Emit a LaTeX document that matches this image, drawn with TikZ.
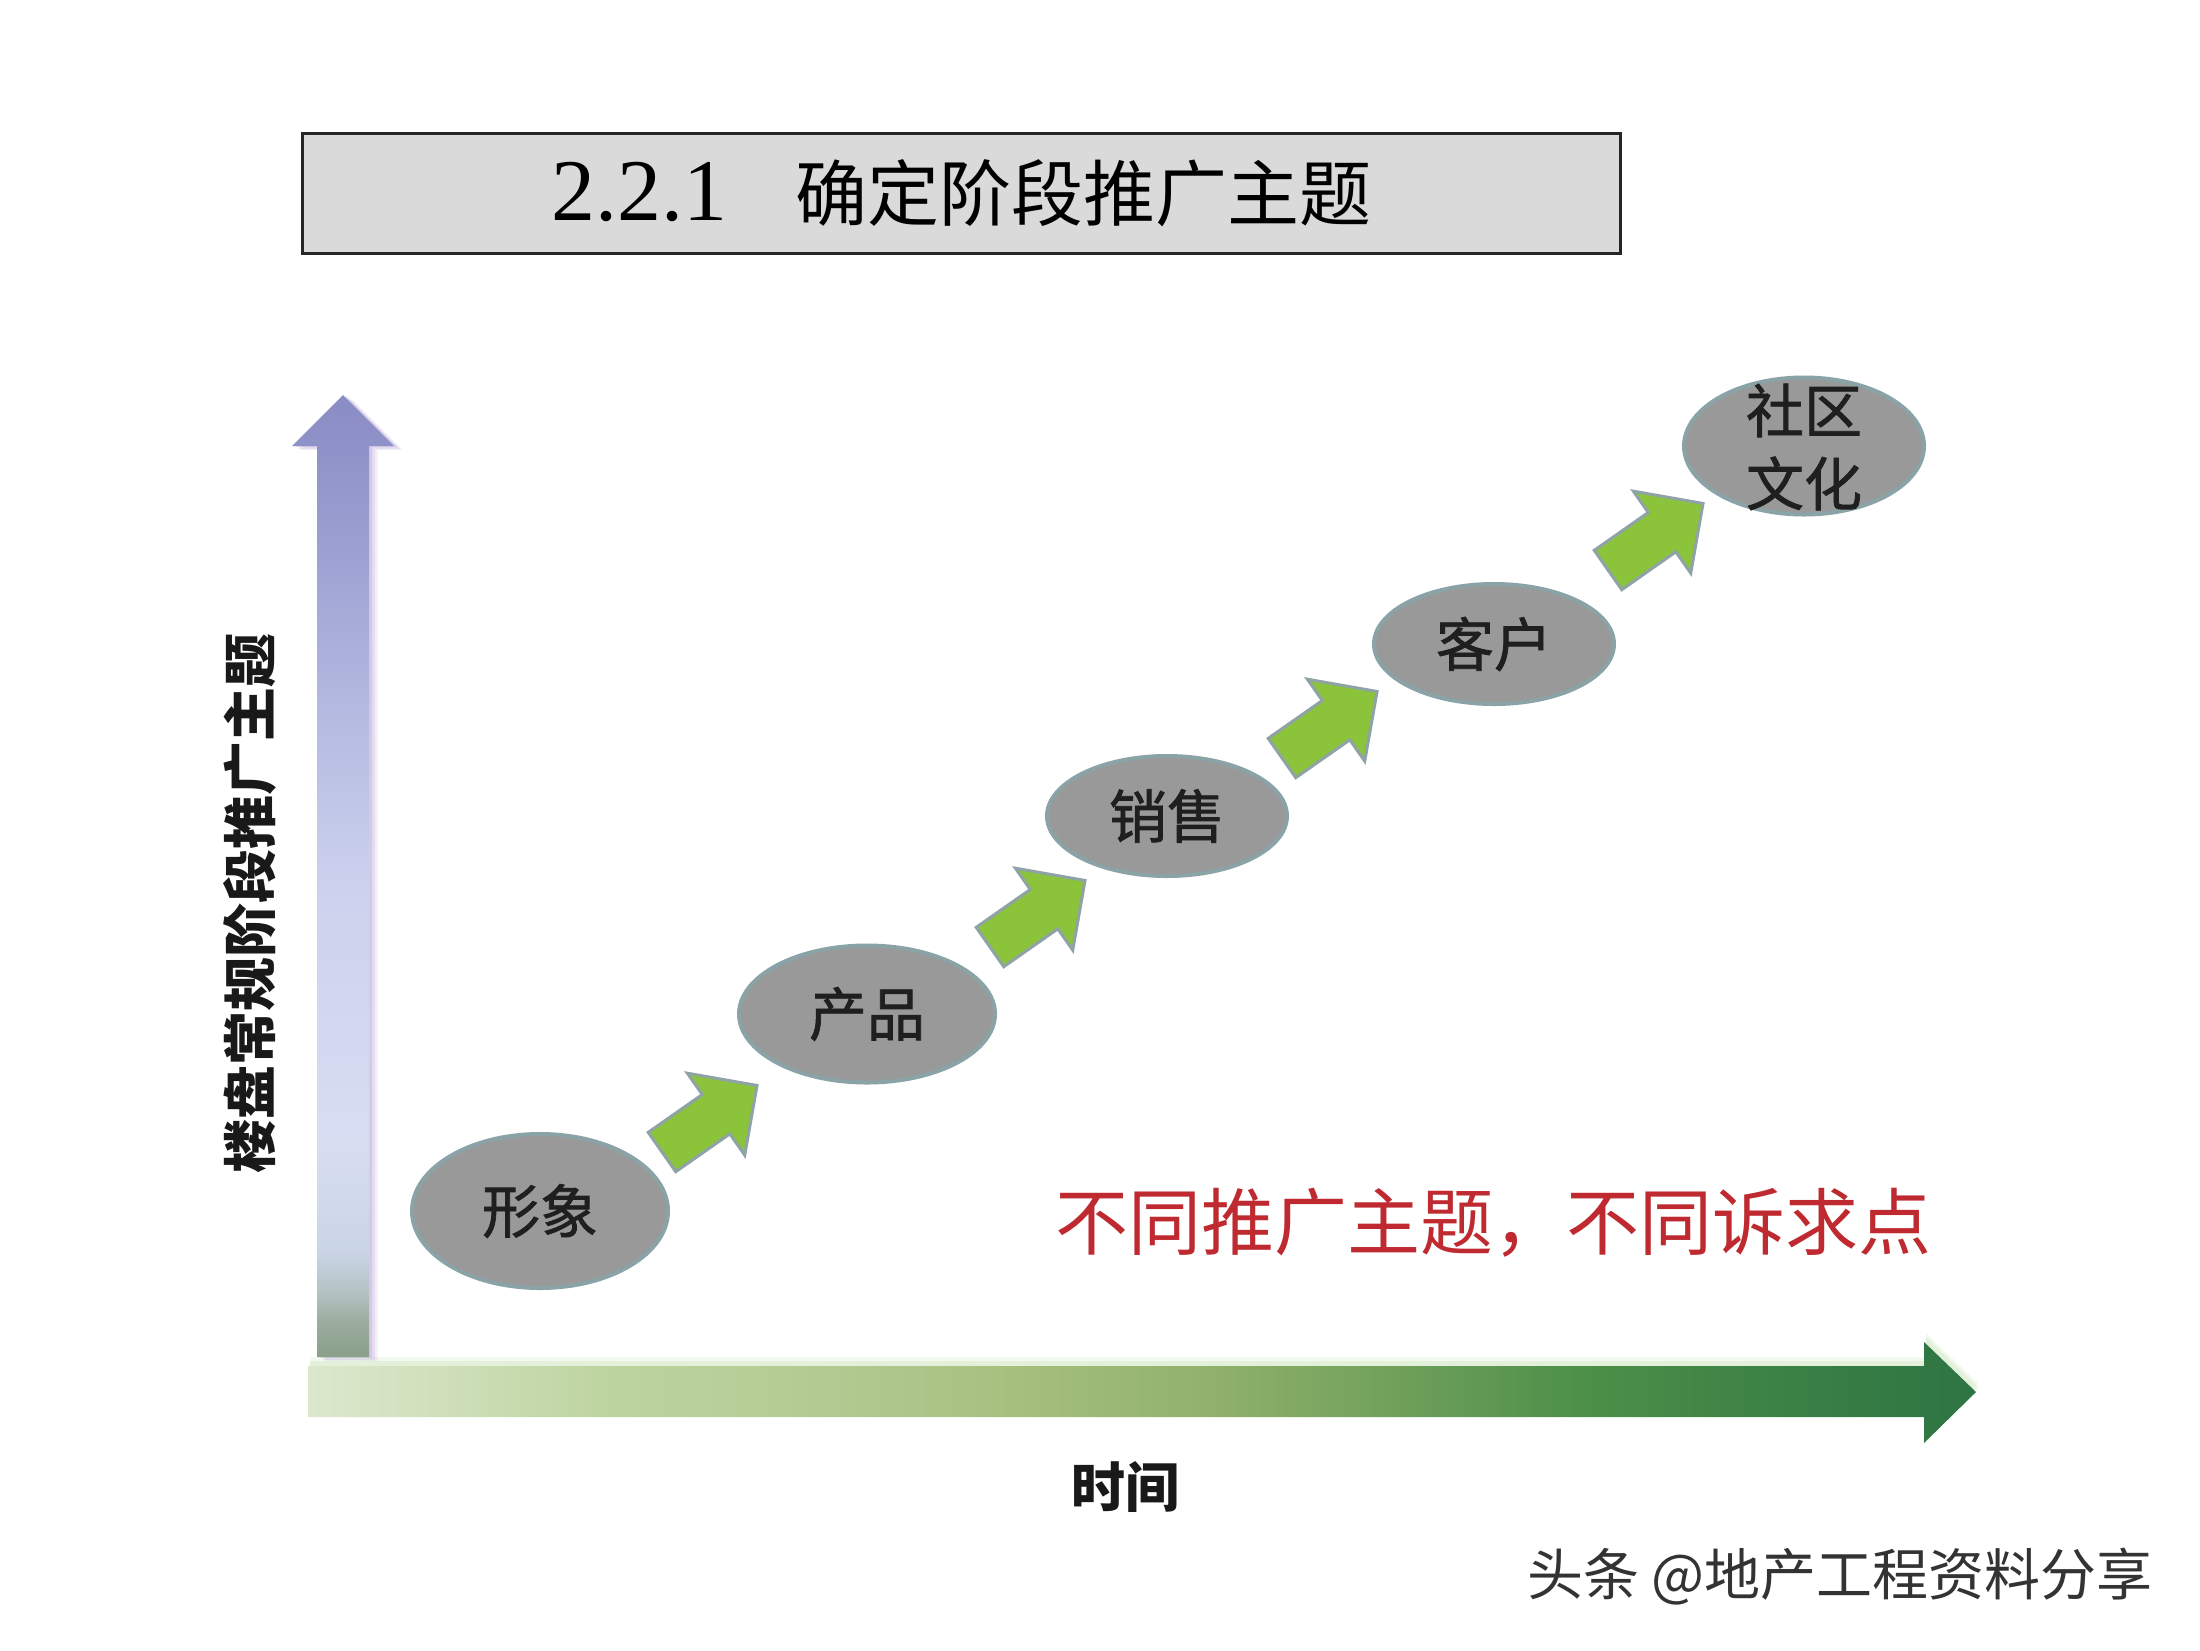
\documentclass[tikz,border=0pt]{standalone}
\usepackage{fontspec}
\setmainfont{Noto Sans CJK SC}
\newfontfamily\digfont{Liberation Serif}
\newfontfamily\bubblefont{Noto Sans CJK SC}[FakeBold=1.3]
\usetikzlibrary{shapes.geometric}
\definecolor{titlegray}{HTML}{DADADA}
\definecolor{bubblefill}{HTML}{999999}
\definecolor{bubbleedge}{HTML}{8AA3A7}
\definecolor{arrowgreen}{HTML}{8BC33A}
\definecolor{arrowedge}{HTML}{8FA3A6}
\definecolor{slogancol}{HTML}{BF2A30}
\definecolor{vglow}{HTML}{BBA5DA}
\definecolor{hglow}{HTML}{B6DA9C}
\definecolor{v1}{HTML}{8A9F8A}
\definecolor{v2}{HTML}{9CAE9F}
\definecolor{v3}{HTML}{B5C4C6}
\definecolor{v4}{HTML}{CBD5E8}
\definecolor{v5}{HTML}{D7DDF1}
\definecolor{v6}{HTML}{CDD3EE}
\definecolor{v7}{HTML}{B3B8E0}
\definecolor{v8}{HTML}{9599CD}
\definecolor{v9}{HTML}{8A8CC4}
\definecolor{h1}{HTML}{DCE8CE}
\definecolor{h2}{HTML}{CEDFB8}
\definecolor{h3}{HTML}{BED4A0}
\definecolor{h4}{HTML}{B4CC94}
\definecolor{h5}{HTML}{A8C080}
\definecolor{h6}{HTML}{92B26E}
\definecolor{h7}{HTML}{6FA05A}
\definecolor{h8}{HTML}{4A8E48}
\definecolor{h9}{HTML}{3A8045}
\definecolor{h10}{HTML}{2D7443}
\pgfdeclareverticalshading{vaxis}{100bp}{color(0bp)=(v1); color(25bp)=(v1); color(26.9bp)=(v2); color(28.5bp)=(v3); color(30.6bp)=(v4); color(35.8bp)=(v5); color(48.8bp)=(v6); color(59.1bp)=(v7); color(69.5bp)=(v8); color(75bp)=(v9); color(100bp)=(v9)}
\pgfdeclarehorizontalshading{haxis}{100bp}{color(0bp)=(h1); color(25bp)=(h1); color(29.3bp)=(h2); color(33.8bp)=(h3); color(39.7bp)=(h4); color(45.7bp)=(h5); color(51.7bp)=(h6); color(57.7bp)=(h7); color(63.7bp)=(h8); color(69.7bp)=(h9); color(75bp)=(h10); color(100bp)=(h10)}
\tikzset{
  titlebox/.style={draw=black!85, line width=3pt, fill=titlegray, minimum width=1318pt, minimum height=120pt, inner sep=0pt, font=\fontsize{72pt}{80pt}\selectfont},
  bubble/.style={ellipse, draw=bubbleedge, line width=4pt, fill=bubblefill, inner sep=0pt, text=black!88, font=\bubblefont\fontsize{58pt}{73pt}\selectfont, align=center},
  bubbletext/.style={inner sep=0pt, text=black!88, font=\bubblefont\fontsize{58pt}{73pt}\selectfont, align=center},
  garrowstyle/.style={fill=arrowgreen, draw=arrowedge, line width=3pt, line join=miter},
  blockarrow/.pic={\draw[garrowstyle] (0,-24) -- (66,-24) -- (66,-50) -- (116,0) -- (66,50) -- (66,24) -- (0,24) -- cycle;},
  axislabel/.style={font=\bfseries\fontsize{54pt}{60pt}\selectfont, text=black!90, inner sep=0pt},
  slogan/.style={font=\fontsize{73pt}{80pt}\selectfont, text=slogancol, inner sep=0pt},
  watermark/.style={font=\fontsize{56pt}{60pt}\selectfont, text=black!80, inner sep=0pt}
}
\newcommand{\vpath}{(317,1357) -- (317,446) -- (292,446) -- (343,395) -- (394,446) -- (369,446) -- (369,1357) -- cycle}
\newcommand{\hpath}{(308,1366) -- (1924,1366) -- (1924,1342) -- (1976,1392) -- (1924,1443) -- (1924,1417) -- (308,1417) -- cycle}
\begin{document}
\begin{tikzpicture}[x=1pt,y=-1pt]
\useasboundingbox (0,0) rectangle (2200,1650);
\fill[white] (0,0) rectangle (2200,1650);

% title
\node[titlebox] (title) at (961,193) {{\digfont\fontsize{88pt}{90pt}\selectfont 2.2.1}\hspace{68pt}确定阶段推广主题};

% vertical axis arrow with soft glow
\begin{scope}[shift={(9,4)}] \fill[vglow, opacity=0.15] \vpath; \end{scope}
\begin{scope}[shift={(6,3)}] \fill[vglow, opacity=0.25] \vpath; \end{scope}
\begin{scope}[shift={(3,1)}] \fill[vglow, opacity=0.35] \vpath; \end{scope}
\path[shading=vaxis] \vpath;

% horizontal axis arrow with soft glow
\begin{scope}[shift={(2,-9)}] \fill[hglow, opacity=0.15] \hpath; \end{scope}
\begin{scope}[shift={(2,-5)}] \fill[hglow, opacity=0.25] \hpath; \end{scope}
\path[shading=haxis] \hpath;

% axis labels
\node[axislabel, rotate=90] (ylabel) at (250,903) {楼盘常规阶段推广主题};
\node[axislabel] (xlabel) at (1125,1487) {时间};

% stages
\node[bubble, minimum width=256pt, minimum height=154pt] (s1) at (540,1211) {形象};
\node[bubble, minimum width=256pt, minimum height=137pt] (s2) at (867,1014) {产品};
\node[bubble, minimum width=240pt, minimum height=120pt] (s3) at (1167,816) {销售};
\node[bubble, minimum width=240pt, minimum height=120pt] (s4) at (1494,644) {客户};
\node[bubble, minimum width=240pt, minimum height=137pt] (s5) at (1804,446) {};
\node[bubbletext] (s5text) at (1804,447) {社区\\文化};

% green step arrows
\pic[rotate=35] (a1) at (662,1152) {blockarrow};
\pic[rotate=35] (a2) at (990,947) {blockarrow};
\pic[rotate=35] (a3) at (1282,758) {blockarrow};
\pic[rotate=35] (a4) at (1608,570) {blockarrow};

% slogan
\node[slogan] (msg) at (1493,1223) {不同推广主题，不同诉求点};

% watermark
\node[watermark] (wm) at (1840,1577) {头条 @地产工程资料分享};
\end{tikzpicture}
\end{document}
